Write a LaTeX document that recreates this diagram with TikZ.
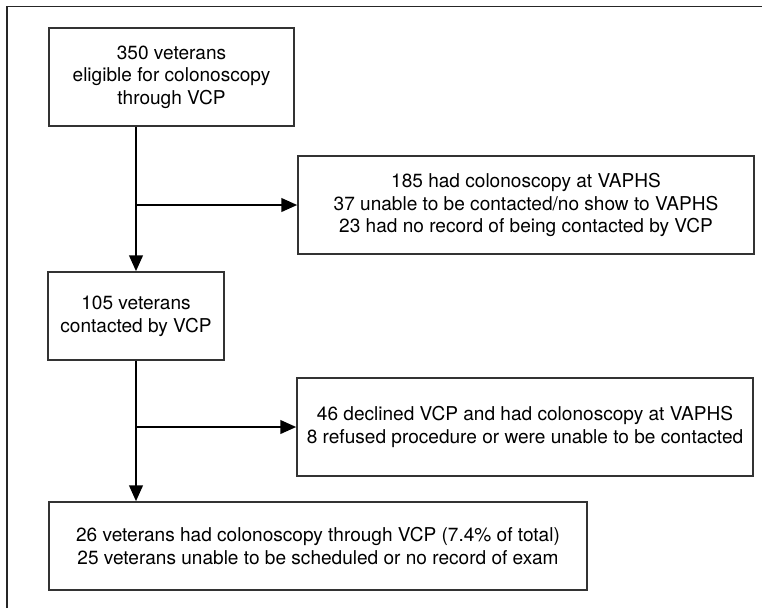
\documentclass[tikz,border=0pt]{standalone}
\usepackage{fontspec}
\setmainfont{TeX Gyre Heros}
\usetikzlibrary{arrows.meta}

\tikzset{
  flowbox/.style={draw=black!80, line width=1pt, fill=white, align=center, inner sep=0pt,
    font={\fontsize{14.3}{17}\selectfont}},
  flowarrow/.style={line width=2.2pt, -{Triangle[length=12pt,width=10pt]}}
}

\begin{document}
\begin{tikzpicture}[x=0.75pt, y=-0.75pt]

\useasboundingbox (0,0) rectangle (762,608);

% frame, top and left edges only
\draw [black!85, line width=1.4pt] (7,608) -- (7,6.5) -- (762,6.5);


\node [flowbox, minimum width=183.75pt, minimum height=73.5pt] (eligible)
 at (171.5, 77) {350 veterans\\eligible for colonoscopy\\through VCP};

\node [flowbox, minimum width=342pt, minimum height=73.5pt] (vaphs)
 at (526, 205) {185 had colonoscopy at VAPHS\\37 unable to be contacted/no show to VAPHS\\23 had no record of being contacted by VCP};

\node [flowbox, minimum width=132pt, minimum height=66pt] (contacted)
 at (136, 316) {105 veterans\\contacted by VCP};

\node [flowbox, minimum width=342pt, minimum height=73.5pt] (declined)
 at (525, 427) {46 declined VCP and had colonoscopy at VAPHS\\8 refused procedure or were unable to be contacted};

\node [flowbox, minimum width=403.5pt, minimum height=66pt] (final)
 at (318, 546) {26 veterans had colonoscopy through VCP (7.4\% of total)\\25 veterans unable to be scheduled or no record of exam};


% trunk and side branches
\draw [flowarrow] (eligible.south -| contacted.north) -- (contacted.north);
\draw [flowarrow] (contacted.north |- vaphs.west) -- (vaphs.west);

\draw [flowarrow] (contacted.south) -- (contacted.south |- final.north);
\draw [flowarrow] (contacted.south |- declined.west) -- (declined.west);

\end{tikzpicture}
\end{document}
